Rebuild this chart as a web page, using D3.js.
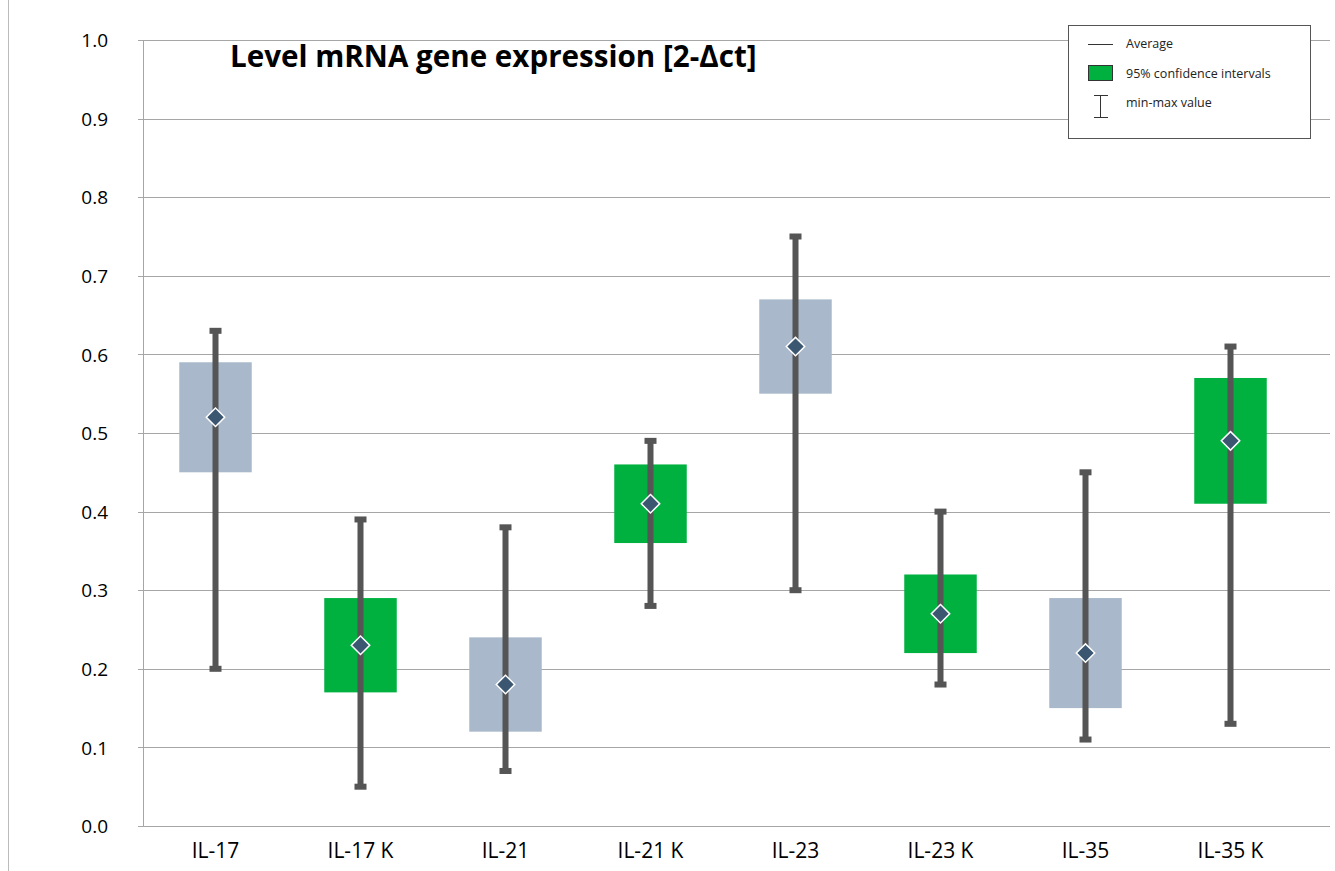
<!DOCTYPE html>
<html>
<head>
<meta charset="utf-8">
<script src="https://cdnjs.cloudflare.com/ajax/libs/d3/7.8.5/d3.min.js"></script>
<style>
  body { margin: 0; background: #fff; }
</style>
</head>
<body>
<div id="vis"></div>
<script>
const FRAME_WIDTH = 1335;
const FRAME_HEIGHT = 871;
const FONT = "'Open Sans', 'Noto Sans', sans-serif";

// data
const categories = ["IL-17", "IL-17 K", "IL-21", "IL-21 K", "IL-23", "IL-23 K", "IL-35", "IL-35 K"];
const averages = [0.52, 0.23, 0.18, 0.41, 0.61, 0.27, 0.22, 0.49];
const ciLow = [0.45, 0.17, 0.12, 0.36, 0.55, 0.22, 0.15, 0.41];
const ciHigh = [0.59, 0.29, 0.24, 0.46, 0.67, 0.32, 0.29, 0.57];
const minValues = [0.20, 0.05, 0.07, 0.28, 0.30, 0.18, 0.11, 0.13];
const maxValues = [0.63, 0.39, 0.38, 0.49, 0.75, 0.40, 0.45, 0.61];
const isControl = [false, true, false, true, false, true, false, true];
const yTicks = [0, 0.1, 0.2, 0.3, 0.4, 0.5, 0.6, 0.7, 0.8, 0.9, 1.0];
const legendLabels = ["Average", "95% confidence intervals", "min-max value"];

const GRAY = "#a9b9cb";
const GREEN = "#00b140";
const BAR = "#555555";

const data = categories.map((c, i) => ({
  cat: c, avg: averages[i], lo: ciLow[i], hi: ciHigh[i],
  min: minValues[i], max: maxValues[i], k: isControl[i]
}));

const FRAME = d3.select("#vis").append("svg")
  .attr("width", FRAME_WIDTH)
  .attr("height", FRAME_HEIGHT)
  .attr("font-family", FONT);

// left edge line of the original image
FRAME.append("line")
  .attr("x1", 8.5).attr("x2", 8.5).attr("y1", 0).attr("y2", FRAME_HEIGHT)
  .attr("stroke", "#bbbbbb").attr("stroke-width", 1);

const X_SCALE = d3.scaleBand()
  .domain(categories)
  .range([143, 1303]);

const Y_SCALE = d3.scaleLinear()
  .domain([0, 1])
  .range([826, 40]);

// gridlines
FRAME.append("g")
  .selectAll("line")
  .data(yTicks)
  .enter().append("line")
    .attr("x1", 138)
    .attr("x2", 1330)
    .attr("y1", d => Math.round(Y_SCALE(d)) + 0.5)
    .attr("y2", d => Math.round(Y_SCALE(d)) + 0.5)
    .attr("stroke", "#a6a6a6")
    .attr("stroke-width", 1);

// y axis line
FRAME.append("line")
  .attr("x1", 143.5).attr("x2", 143.5)
  .attr("y1", Y_SCALE(1)).attr("y2", Y_SCALE(0))
  .attr("stroke", "#a6a6a6");

const yAxis = FRAME.append("g")
  .attr("transform", "translate(108,0)")
  .call(d3.axisLeft(Y_SCALE).tickValues(yTicks).tickFormat(d3.format(".1f")).tickSize(0).tickPadding(0));
yAxis.select(".domain").remove();
yAxis.selectAll("text")
  .attr("font-size", "19px")
  .attr("fill", "#000")
  .attr("dy", "0.35em")
  .attr("font-family", FONT);

const xAxis = FRAME.append("g")
  .attr("transform", "translate(0,838)")
  .call(d3.axisBottom(X_SCALE).tickSize(0).tickPadding(0));
xAxis.select(".domain").remove();
xAxis.selectAll("text")
  .attr("font-size", "21px")
  .attr("fill", "#000")
  .attr("dy", "0.95em")
  .attr("font-family", FONT);

const BOX_W = X_SCALE.bandwidth() * 0.5;
const cx = d => X_SCALE(d.cat) + X_SCALE.bandwidth() / 2;

// confidence interval boxes
FRAME.selectAll(".box")
  .data(data)
  .enter().append("rect")
    .attr("class", "box")
    .attr("x", d => cx(d) - BOX_W / 2)
    .attr("y", d => Y_SCALE(d.hi))
    .attr("width", BOX_W)
    .attr("height", d => Y_SCALE(d.lo) - Y_SCALE(d.hi))
    .attr("fill", d => d.k ? GREEN : GRAY);

// min-max whiskers
FRAME.selectAll(".whisker")
  .data(data)
  .enter().append("line")
    .attr("x1", cx).attr("x2", cx)
    .attr("y1", d => Y_SCALE(d.max))
    .attr("y2", d => Y_SCALE(d.min))
    .attr("stroke", BAR)
    .attr("stroke-width", 6);

["max", "min"].forEach(key => {
  FRAME.selectAll(".cap-" + key)
    .data(data)
    .enter().append("rect")
      .attr("x", d => cx(d) - 6)
      .attr("y", d => Y_SCALE(d[key]) - 3)
      .attr("width", 12)
      .attr("height", 6)
      .attr("fill", BAR);
});

// average diamonds
FRAME.selectAll(".avg")
  .data(data)
  .enter().append("path")
    .attr("d", d3.symbol().type(d3.symbolSquare).size(170))
    .attr("transform", d => "translate(" + cx(d) + "," + Y_SCALE(d.avg) + ") rotate(45)")
    .attr("fill", "#3b5670")
    .attr("stroke", "#fff")
    .attr("stroke-width", 1.5);

// title
FRAME.append("text")
  .attr("x", 230)
  .attr("y", 67)
  .attr("font-size", "29.6px")
  .attr("font-weight", "bold")
  .attr("fill", "#000")
  .text("Level mRNA gene expression [2-Δct]");

// legend
const LEG = FRAME.append("g").attr("transform", "translate(1068,25)");
LEG.append("rect")
  .attr("x", 0.5).attr("y", 0.5)
  .attr("width", 242).attr("height", 113)
  .attr("fill", "#fff")
  .attr("stroke", "#555")
  .attr("stroke-width", 1);
LEG.append("line")
  .attr("x1", 20).attr("x2", 45).attr("y1", 19.5).attr("y2", 19.5)
  .attr("stroke", "#333").attr("stroke-width", 1);
LEG.append("rect")
  .attr("x", 20.5).attr("y", 40.5).attr("width", 24).attr("height", 15)
  .attr("fill", GREEN).attr("stroke", "#333").attr("stroke-width", 1);
LEG.append("line")
  .attr("x1", 32.5).attr("x2", 32.5).attr("y1", 70).attr("y2", 93)
  .attr("stroke", "#333");
LEG.append("line")
  .attr("x1", 26).attr("x2", 40).attr("y1", 70.5).attr("y2", 70.5)
  .attr("stroke", "#333");
LEG.append("line")
  .attr("x1", 26).attr("x2", 40).attr("y1", 92.5).attr("y2", 92.5)
  .attr("stroke", "#333");
LEG.selectAll(".ltext")
  .data(legendLabels)
  .enter().append("text")
    .attr("x", 58)
    .attr("y", (d, i) => 23 + i * 29.5)
    .attr("font-size", "12.5px")
    .attr("fill", "#222")
    .text(d => d);
</script>
</body>
</html>
